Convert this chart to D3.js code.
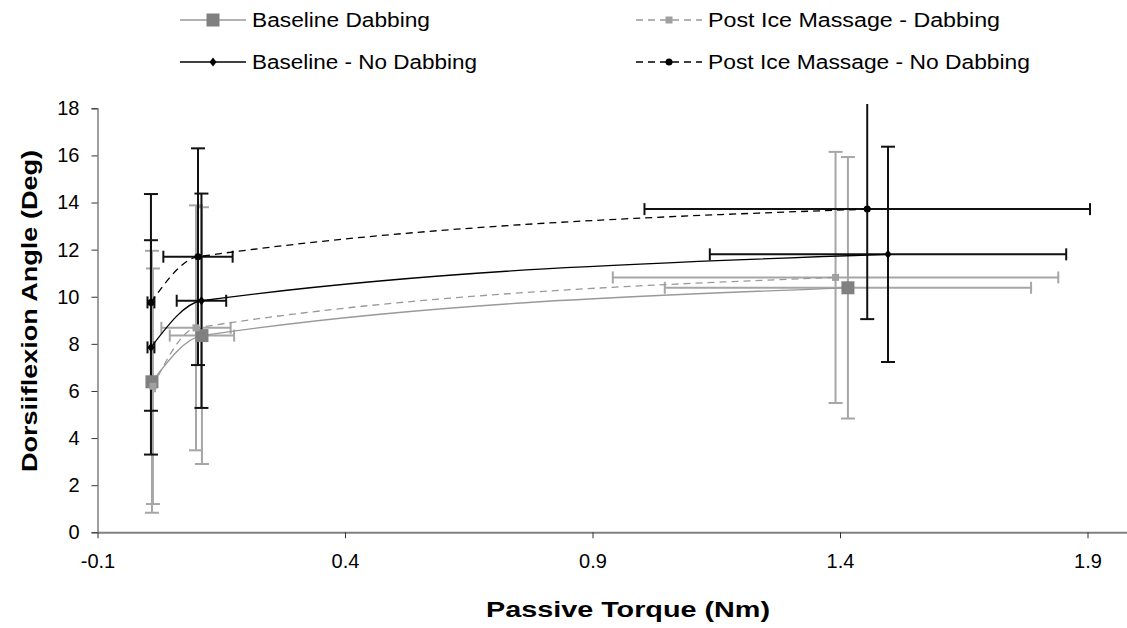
<!DOCTYPE html>
<html>
<head>
<meta charset="utf-8">
<script src="https://cdn.jsdelivr.net/npm/d3@7"></script>
<style>
  body { margin: 0; background: #fff; }
  text { font-family: "Liberation Sans", Arial, sans-serif; }
</style>
</head>
<body>
<div id="chart"></div>
<script>
// values
var seriesNames = ['Baseline Dabbing', 'Post Ice Massage - Dabbing', 'Baseline - No Dabbing', 'Post Ice Massage - No Dabbing'];

var bdX = [0.010, 0.111, 1.416];
var bdY = [6.39, 8.35, 10.38];
var bdXErr = [0.004, 0.065, 0.37];
var bdYErr = [5.56, 5.45, 5.55];

var pdX = [0.012, 0.099, 1.391];
var pdY = [6.2, 8.68, 10.82];
var pdXErr = [0.004, 0.07, 0.45];
var pdYErr = [5.0, 5.2, 5.33];

var bnX = [0.008, 0.110, 1.497];
var bnY = [7.85, 9.83, 11.80];
var bnXErr = [0.007, 0.05, 0.36];
var bnYErr = [4.55, 4.55, 4.57];

var pnX = [0.008, 0.103, 1.455];
var pnY = [9.76, 11.70, 13.72];
var pnXErr = [0.007, 0.07, 0.45];
var pnYErr = [4.6, 4.6, 4.67];

var xTicks = [-0.1, 0.4, 0.9, 1.4, 1.9];
var yTicks = [0, 2, 4, 6, 8, 10, 12, 14, 16, 18];

var width = 1127, height = 628;

var svg = d3.select('#chart').append('svg')
  .attr('width', width)
  .attr('height', height);

var x = d3.scaleLinear().domain([-0.1, 1.98]).range([97.5, 1127.1]);
var y = d3.scaleLinear().domain([0, 18]).range([532.3, 108.3]);

function build(xs, ys, xe, ye) {
  return xs.map(function(v, i) { return {x: v, y: ys[i], xe: xe[i], ye: ye[i]}; });
}

var series = [
  {name: seriesNames[0], pts: build(bdX, bdY, bdXErr, bdYErr), color: '#999', bar: '#a6a6a6', dash: null, marker: 'bigsquare', mcolor: '#808080'},
  {name: seriesNames[1], pts: build(pdX, pdY, pdXErr, pdYErr), color: '#999', bar: '#a6a6a6', dash: '7,5', marker: 'square', mcolor: '#a0a0a0'},
  {name: seriesNames[2], pts: build(bnX, bnY, bnXErr, bnYErr), color: '#000', bar: '#111', dash: null, marker: 'diamond', mcolor: '#000'},
  {name: seriesNames[3], pts: build(pnX, pnY, pnXErr, pnYErr), color: '#000', bar: '#111', dash: '7,5', marker: 'circle', mcolor: '#000'}
];

svg.append('clipPath').attr('id', 'plotclip')
  .append('rect').attr('x', 60).attr('y', 104).attr('width', 1100).attr('height', 440);

// axes
var yAxis = svg.append('g')
  .attr('transform', 'translate(' + x(-0.1) + ',0)')
  .call(d3.axisLeft(y).tickValues(yTicks).tickSize(6).tickPadding(12).tickFormat(function(d) { return d; }));
yAxis.select('.domain').attr('stroke', '#808080').attr('stroke-width', 1.5);
yAxis.selectAll('.tick line').attr('stroke', '#333');
yAxis.selectAll('text').attr('font-size', 20).attr('fill', '#000').attr('font-family', '"Liberation Sans", Arial, sans-serif');

var xAxis = svg.append('g')
  .attr('transform', 'translate(0,' + y(0) + ')')
  .call(d3.axisBottom(x).tickValues(xTicks).tickSize(6).tickSizeOuter(0).tickPadding(16).tickFormat(function(d) { return d.toFixed(1); }));
xAxis.select('.domain').attr('stroke', '#808080').attr('stroke-width', 2);
xAxis.selectAll('.tick line').attr('stroke', '#333');
xAxis.selectAll('text').attr('font-size', 20).attr('fill', '#000').attr('font-family', '"Liberation Sans", Arial, sans-serif');

// axis titles
svg.append('text')
  .attr('x', 628).attr('y', 617)
  .attr('text-anchor', 'middle')
  .attr('font-size', 22).attr('font-weight', 'bold')
  .attr('textLength', 284).attr('lengthAdjust', 'spacingAndGlyphs')
  .text('Passive Torque (Nm)');

svg.append('text')
  .attr('transform', 'translate(37,311) rotate(-90)')
  .attr('text-anchor', 'middle')
  .attr('font-size', 22).attr('font-weight', 'bold')
  .attr('textLength', 322).attr('lengthAdjust', 'spacingAndGlyphs')
  .text('Dorsiiflexion Angle (Deg)');

var plot = svg.append('g').attr('clip-path', 'url(#plotclip)');

var line = d3.line()
  .x(function(d) { return x(d.x); })
  .y(function(d) { return y(d.y); })
  .curve(d3.curveMonotoneX);

// error bars first, then lines and markers
series.forEach(function(s) {
  var g = plot.append('g');
  s.pts.forEach(function(d) {
    var cx = x(d.x), cy = y(d.y);
    var top = y(d.y + d.ye), bot = y(d.y - d.ye);
    var lft = x(d.x - d.xe), rgt = x(d.x + d.xe);
    var segs = [
      [cx, top, cx, bot], [cx - 7, top, cx + 7, top], [cx - 7, bot, cx + 7, bot],
      [lft, cy, rgt, cy], [lft, cy - 6, lft, cy + 6], [rgt, cy - 6, rgt, cy + 6]
    ];
    g.selectAll(null).data(segs).enter().append('line')
      .attr('x1', function(p) { return p[0]; })
      .attr('y1', function(p) { return p[1]; })
      .attr('x2', function(p) { return p[2]; })
      .attr('y2', function(p) { return p[3]; })
      .attr('stroke', s.bar)
      .attr('stroke-width', 2);
  });
});

function drawMarker(g, type, cx, cy, color) {
  if (type === 'bigsquare') {
    g.append('rect').attr('x', cx - 6.5).attr('y', cy - 6.5).attr('width', 13).attr('height', 13).attr('fill', color);
  } else if (type === 'square') {
    g.append('rect').attr('x', cx - 3.5).attr('y', cy - 3.5).attr('width', 7).attr('height', 7).attr('fill', color);
  } else if (type === 'diamond') {
    g.append('path').attr('d', 'M' + cx + ',' + (cy - 4.5) + 'L' + (cx + 3.5) + ',' + cy + 'L' + cx + ',' + (cy + 4.5) + 'L' + (cx - 3.5) + ',' + cy + 'Z').attr('fill', color);
  } else {
    g.append('circle').attr('cx', cx).attr('cy', cy).attr('r', 3.5).attr('fill', color);
  }
}

series.forEach(function(s) {
  plot.append('path')
    .datum(s.pts)
    .attr('d', line)
    .attr('fill', 'none')
    .attr('stroke', s.color)
    .attr('stroke-width', 1.3)
    .attr('stroke-dasharray', s.dash);
});

series.forEach(function(s) {
  var g = plot.append('g');
  s.pts.forEach(function(d) { drawMarker(g, s.marker, x(d.x), y(d.y), s.mcolor); });
});

// legend
var legendPos = [
  {lx: 180, ly: 20, w: 178}, {lx: 636, ly: 20, w: 292},
  {lx: 180, ly: 62, w: 225}, {lx: 636, ly: 62, w: 322}
];
series.forEach(function(s, i) {
  var p = legendPos[i];
  var g = svg.append('g');
  g.append('line')
    .attr('x1', p.lx).attr('y1', p.ly).attr('x2', p.lx + 66).attr('y2', p.ly)
    .attr('stroke', s.color).attr('stroke-width', 1.5)
    .attr('stroke-dasharray', s.dash);
  drawMarker(g, s.marker, p.lx + 33, p.ly, s.mcolor);
  g.append('text')
    .attr('x', p.lx + 72).attr('y', p.ly + 7)
    .attr('font-size', 20)
    .attr('textLength', p.w).attr('lengthAdjust', 'spacingAndGlyphs')
    .text(s.name);
});
</script>
</body>
</html>
